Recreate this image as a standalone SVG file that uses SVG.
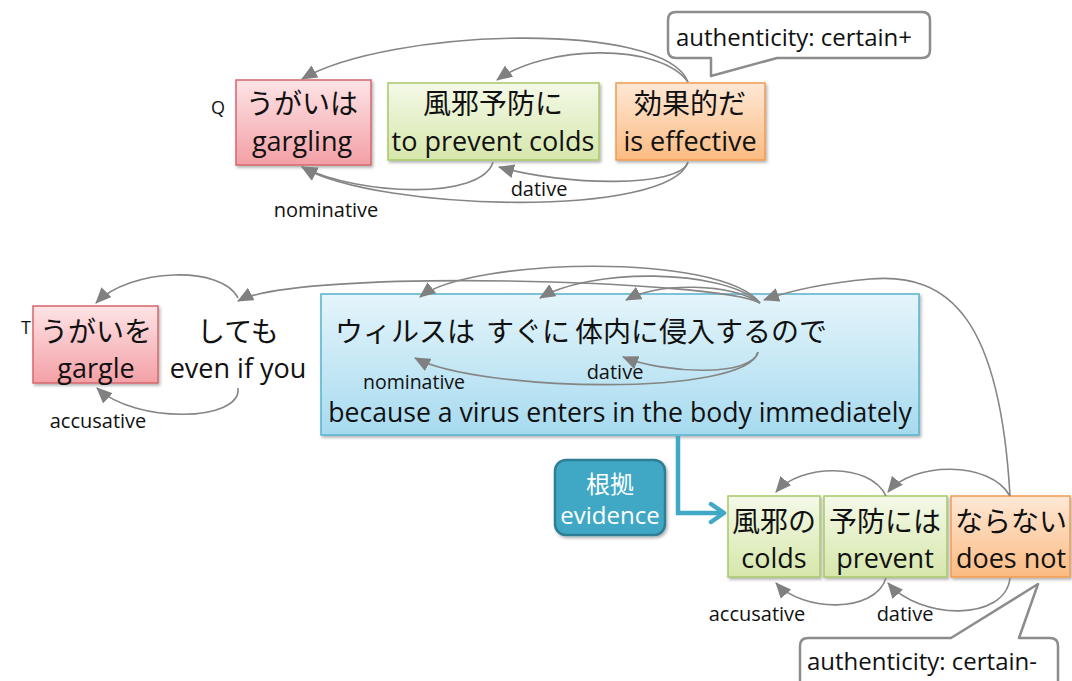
<svg xmlns="http://www.w3.org/2000/svg" width="1072" height="681" viewBox="0 0 1072 681">
<defs>
<linearGradient id="gRed" x1="0" y1="0" x2="0" y2="1"><stop offset="0" stop-color="#fde4e6"/><stop offset="1" stop-color="#f3a0a6"/></linearGradient>
<linearGradient id="gGreen" x1="0" y1="0" x2="0" y2="1"><stop offset="0" stop-color="#f4f9e8"/><stop offset="1" stop-color="#d6e7ab"/></linearGradient>
<linearGradient id="gOrange" x1="0" y1="0" x2="0" y2="1"><stop offset="0" stop-color="#fee8d6"/><stop offset="1" stop-color="#fbbb82"/></linearGradient>
<linearGradient id="gBlue" x1="0" y1="0" x2="0" y2="1"><stop offset="0" stop-color="#e5f5fb"/><stop offset="1" stop-color="#a6daef"/></linearGradient>
<filter id="sh" x="-10%" y="-10%" width="125%" height="130%"><feDropShadow dx="1.5" dy="2" stdDeviation="1.5" flood-color="#000" flood-opacity="0.3"/></filter>
<marker id="ah" markerUnits="userSpaceOnUse" markerWidth="16" markerHeight="14" viewBox="0 0 16 14" refX="15" refY="7" orient="auto"><path d="M0,0 L16,7 L0,14 Z" fill="#808080"/></marker>
<marker id="tah" markerUnits="userSpaceOnUse" markerWidth="20" markerHeight="24" viewBox="0 0 20 24" refX="17" refY="12" orient="auto"><path d="M4,3 L17,12 L4,21" fill="none" stroke="#41a9c6" stroke-width="4.5" stroke-linecap="round" stroke-linejoin="round"/></marker>
<style>
text{font-family:"Open Sans","Noto Sans CJK JP",sans-serif;fill:#111}
.jp{font-size:28px;text-anchor:middle}
.en{font-size:27px;text-anchor:middle}
.lbl{font-size:20px;text-anchor:middle}
.sm{font-size:18px}
.call{font-size:24px}
.arc{fill:none;stroke:#858585;stroke-width:1.6;marker-end:url(#ah)}
.red{fill:url(#gRed);stroke:#d5676c;stroke-width:1.5}
.green{fill:url(#gGreen);stroke:#a9c86a;stroke-width:1.5}
.orange{fill:url(#gOrange);stroke:#f29a50;stroke-width:1.5}
.blue{fill:url(#gBlue);stroke:#55b3cd;stroke-width:1.5}
.bubble{fill:#fff;stroke:#8c8c8c;stroke-width:2.5;stroke-linejoin:round}
</style>
</defs>
<rect width="1072" height="681" fill="#fff"/>

<!-- Top sentence -->
<text x="211" y="114" class="sm">Q</text>
<g id="n-ugaiwa">
<rect x="236" y="80" width="135" height="85" class="red" filter="url(#sh)"/>
<text x="302" y="114" class="jp">うがいは</text>
<text x="302" y="151" class="en">gargling</text>
</g>
<g id="n-kazeyobou">
<rect x="388" y="83" width="211" height="77" class="green" filter="url(#sh)"/>
<text x="493" y="114" class="jp">風邪予防に</text>
<text x="493" y="151" class="en">to prevent colds</text>
</g>
<g id="n-kouka">
<rect x="616" y="83" width="149" height="77" class="orange" filter="url(#sh)"/>
<text x="690" y="114" class="jp">効果的だ</text>
<text x="690" y="151" class="en">is effective</text>
</g>
<g id="callout-top">
<path class="bubble" d="M676,12 H922 Q930,12 930,20 V50 Q930,58 922,58 H777 L711,76 L711,58 H676 Q668,58 668,50 V20 Q668,12 676,12 Z"/>
<text x="676" y="46" class="call">authenticity: certain+</text>
</g>

<!-- Bottom sentence -->
<text x="21" y="334" class="sm">T</text>
<g id="n-ugaiwo">
<rect x="33" y="306" width="125" height="77" class="red" filter="url(#sh)"/>
<text x="96" y="342" class="jp">うがいを</text>
<text x="96" y="378" class="en">gargle</text>
</g>
<g id="n-shitemo">
<text x="238" y="342" class="jp">しても</text>
<text x="238" y="378" class="en">even if you</text>
</g>
<g id="n-virus">
<rect x="321" y="294" width="598" height="141" class="blue" filter="url(#sh)"/>
<text y="342" style="font-size:28px"><tspan x="335">ウィルスは</tspan><tspan x="486">すぐに</tspan><tspan x="575">体内に侵入するので</tspan></text>
<text x="620" y="422" class="en" style="font-size:26.6px">because a virus enters in the body immediately</text>
</g>
<g id="n-evidence">
<rect x="555" y="460" width="110" height="75" rx="11" fill="#3fa8c5" stroke="#2d7f96" stroke-width="2.5" filter="url(#sh)"/>
<text x="610" y="493" style="font-size:24px;text-anchor:middle;fill:#fff">根拠</text>
<text x="610" y="524" style="font-size:24px;text-anchor:middle;fill:#fff">evidence</text>
</g>
<g id="n-kazeno">
<rect x="728" y="496" width="92" height="81" class="green" filter="url(#sh)"/>
<text x="774" y="532" class="jp">風邪の</text>
<text x="774" y="568" class="en">colds</text>
</g>
<g id="n-yobouniha">
<rect x="824" y="496" width="123" height="81" class="green" filter="url(#sh)"/>
<text x="885" y="532" class="jp">予防には</text>
<text x="885" y="568" class="en">prevent</text>
</g>
<g id="n-naranai">
<rect x="951" y="496" width="119" height="81" class="orange" filter="url(#sh)"/>
<text x="1011" y="532" class="jp">ならない</text>
<text x="1011" y="568" class="en">does not</text>
</g>
<g id="callout-bottom">
<path class="bubble" d="M808,638 H951 L1038,584 L1019,638 H1050 Q1058,638 1058,646 V690 H800 V646 Q800,638 808,638 Z"/>
<text x="807" y="670" class="call">authenticity: certain-</text>
</g>

<!-- Connectors -->
<g id="connectors">
<!-- top sentence -->
<path class="arc" d="M688,82 C665,20 390,28 302,79"/>
<path class="arc" d="M688,82 C660,42 545,45 497,80"/>
<path class="arc" d="M493,162 C482,200 360,196 302,167"/>
<path class="arc" d="M688,162 C680,188 565,186 499,167"/>
<path class="arc" d="M688,162 C670,218 380,212 302,167"/>
<text x="539" y="196" class="lbl">dative</text>
<text x="326" y="217" class="lbl">nominative</text>

<!-- bottom sentence -->
<path class="arc" d="M238,298 C222,265 130,268 96,303"/>
<path class="arc" d="M238,388 C242,422 135,424 97,388"/>
<text x="98" y="428" class="lbl">accusative</text>
<path class="arc" d="M760,303 C720,280 300,268 238,301"/>
<path class="arc" d="M760,303 C720,252 470,258 420,297"/>
<path class="arc" d="M760,303 C722,268 590,268 540,298"/>
<path class="arc" d="M760,303 C730,283 660,282 626,300"/>
<path class="arc" d="M1010,496 C1000,320 950,272 870,279 C825,283 792,290 764,300"/>
<path class="arc" d="M758,352 C752,377 665,374 623,357"/>
<path class="arc" d="M758,352 C746,397 480,392 415,358"/>
<text x="414" y="389" class="lbl" style="font-size:19.5px">nominative</text>
<text x="615" y="379" class="lbl">dative</text>

<path class="arc" d="M886,496 C870,462 800,464 776,492"/>
<path class="arc" d="M1010,496 C990,460 912,462 888,492"/>
<path class="arc" d="M886,578 C875,614 802,612 776,583"/>
<path class="arc" d="M1010,578 C1005,622 920,620 888,583"/>
<text x="757" y="621" class="lbl">accusative</text>
<text x="905" y="621" class="lbl">dative</text>

<path d="M678,436 V513 H724" fill="none" stroke="#41a9c6" stroke-width="4.5" marker-end="url(#tah)"/>
</g>
</svg>
